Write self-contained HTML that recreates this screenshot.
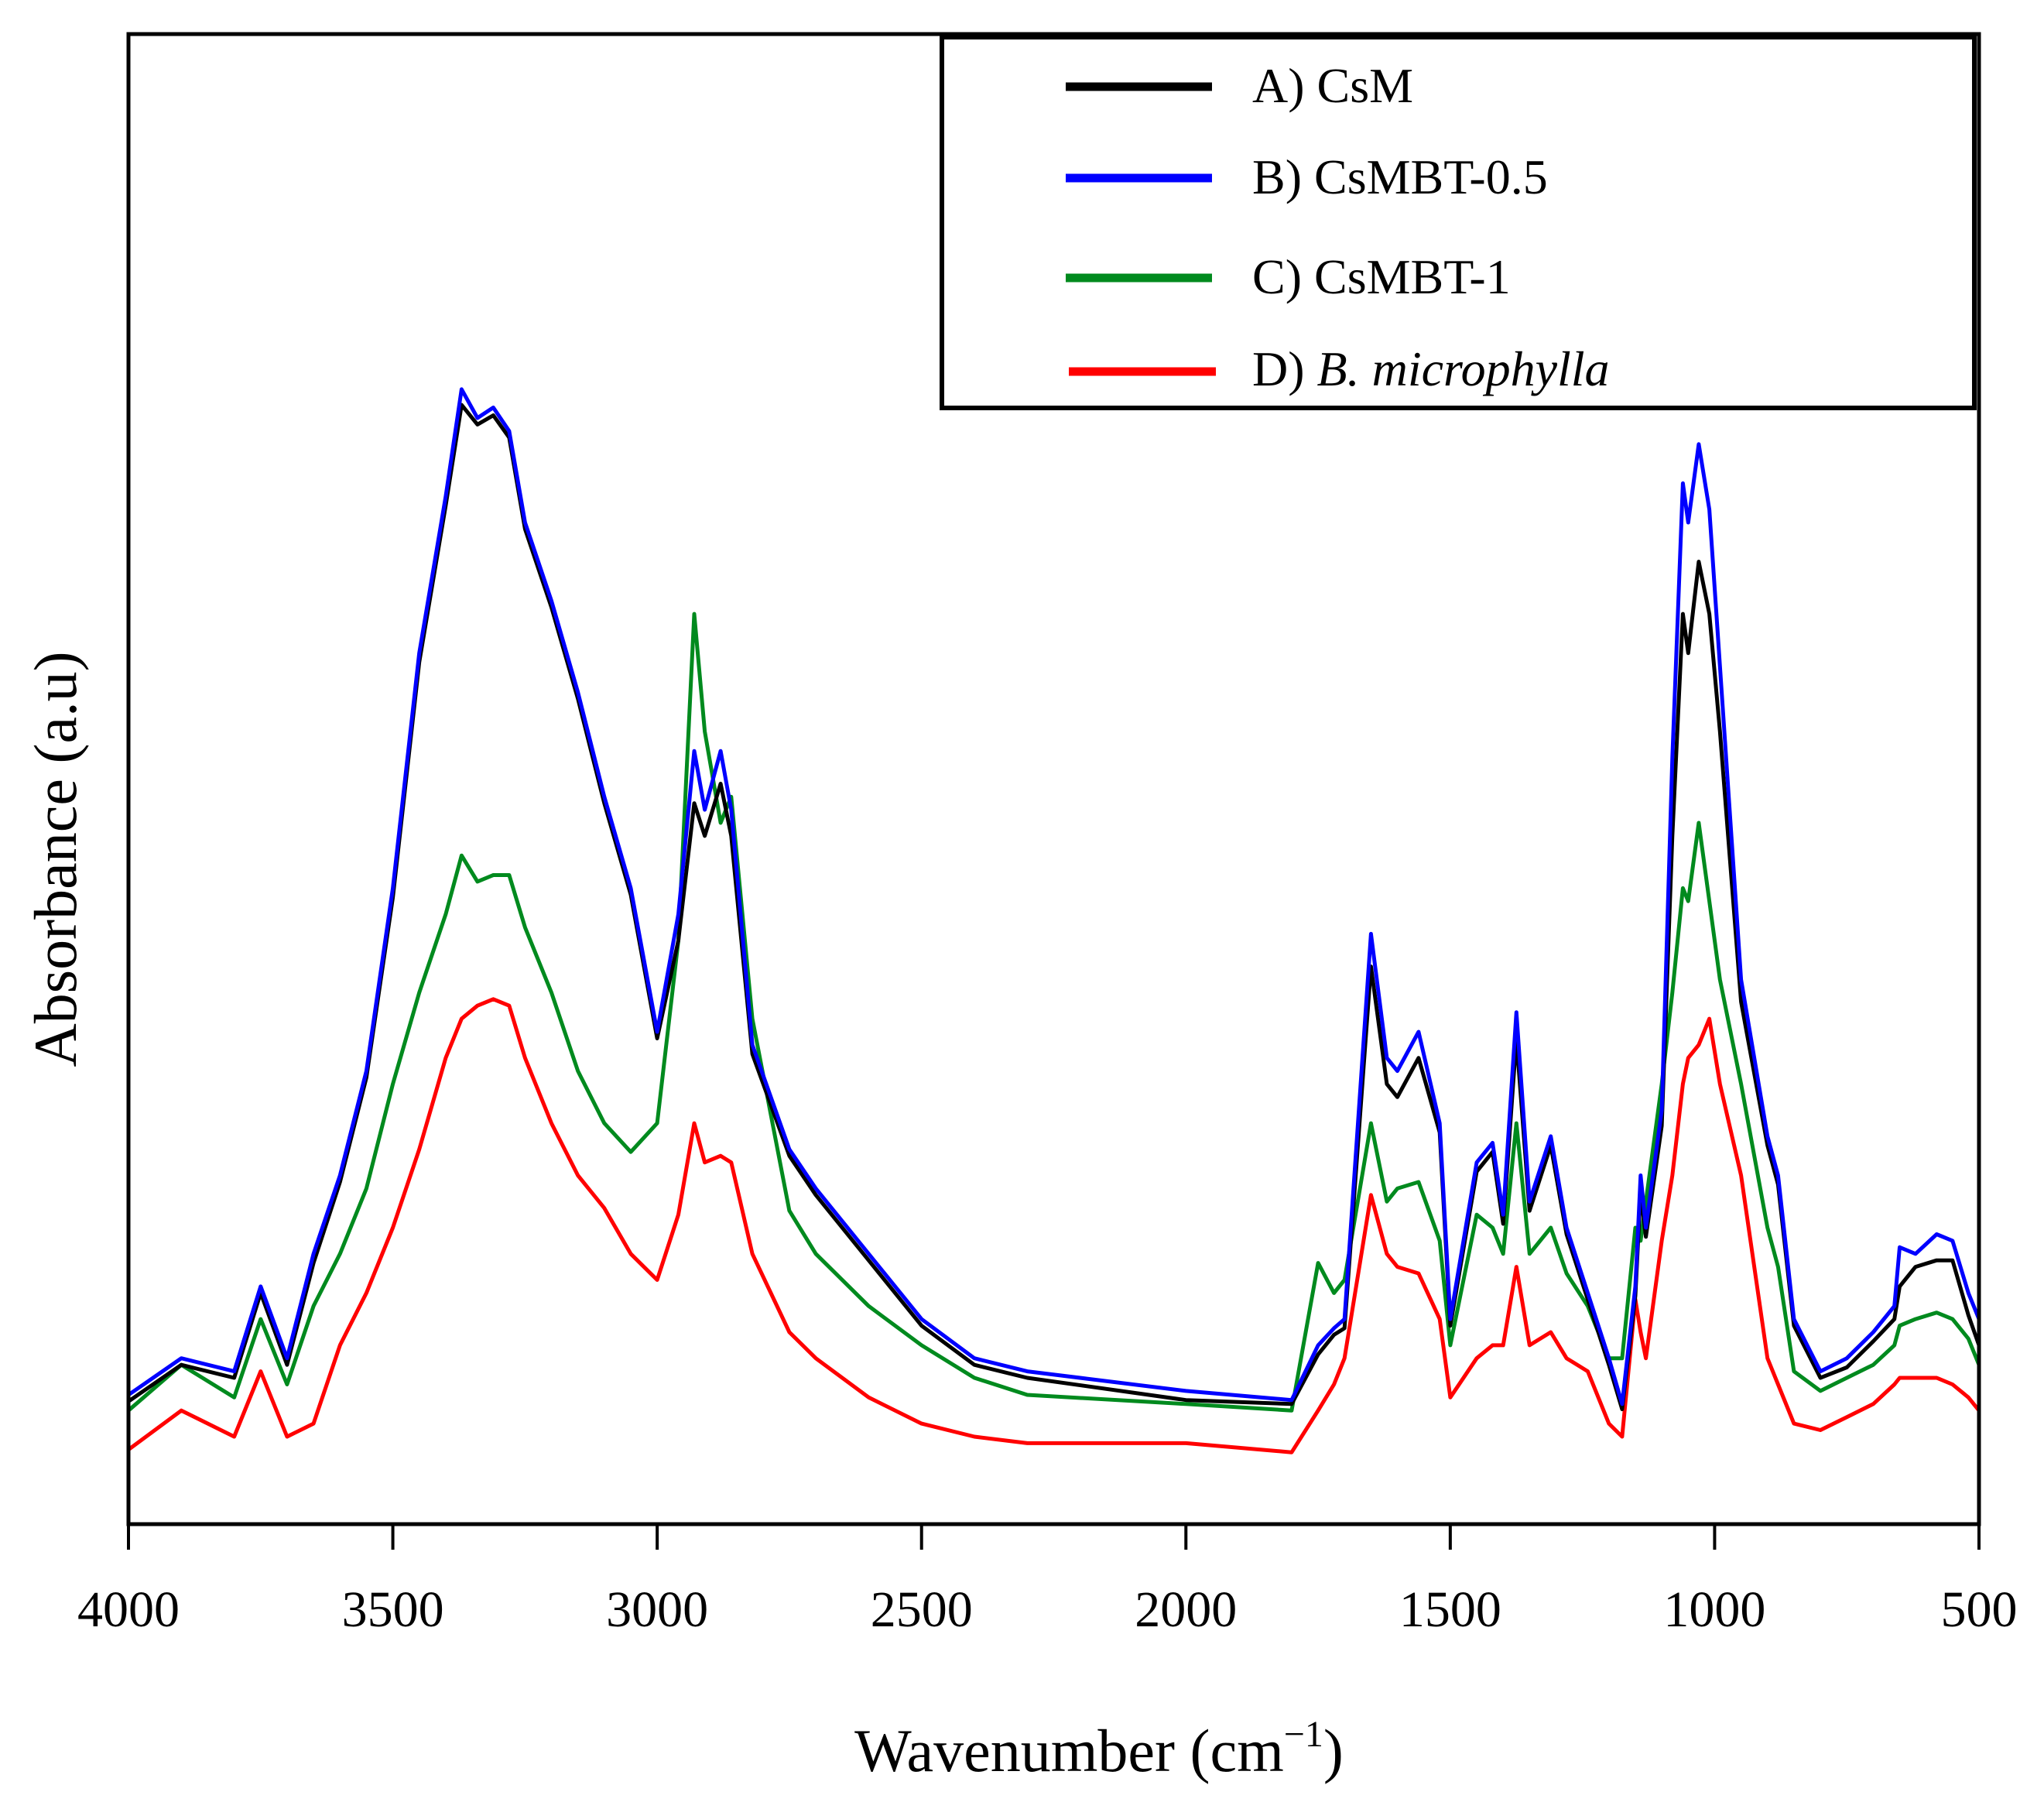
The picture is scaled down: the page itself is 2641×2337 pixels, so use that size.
<!DOCTYPE html>
<html><head><meta charset="utf-8"><style>
html,body{margin:0;padding:0;background:#fff;}
svg{display:block;}
text{font-family:"Liberation Serif",serif;fill:#000;}
</style></head><body>
<svg id="chart" width="2641" height="2337" viewBox="0 0 2641 2337">
<g id="series"></g>
<rect x="166" y="44" width="2391" height="1925" fill="none" stroke="#000" stroke-width="5"/>
<g id="ticks"></g>
<text x="1420" y="2288" font-size="78" text-anchor="middle">Wavenumber (cm<tspan font-size="48" dy="-32">−1</tspan><tspan dy="32">)</tspan></text>
<text transform="translate(98,1110) rotate(-90)" font-size="78" text-anchor="middle">Absorbance (a.u)</text>
<g>
<rect x="1217" y="48" width="1334" height="479" fill="#fff" stroke="#000" stroke-width="6"/>
<line x1="1377" y1="112" x2="1566" y2="112" stroke="#000" stroke-width="11"/>
<text x="1618" y="132" font-size="64">A) CsM</text>
<line x1="1377" y1="230" x2="1566" y2="230" stroke="#0000ff" stroke-width="11"/>
<text x="1618" y="250" font-size="64">B) CsMBT-0.5</text>
<line x1="1377" y1="359" x2="1566" y2="359" stroke="#008a1e" stroke-width="11"/>
<text x="1618" y="379" font-size="64">C) CsMBT-1</text>
<line x1="1381" y1="480" x2="1571" y2="480" stroke="#ff0000" stroke-width="11"/>
<text x="1618" y="498" font-size="64">D) <tspan font-style="italic">B. microphylla</tspan></text>
</g>
</svg>
<script>
const wavenumbers=[4000,3900,3800,3750,3700,3650,3600,3550,3500,3450,3400,3370,3340,3310,3280,3250,3200,3150,3100,3050,3000,2960,2930,2910,2880,2860,2820,2750,2700,2600,2500,2400,2300,2000,1800,1750,1720,1700,1650,1620,1600,1560,1520,1500,1450,1420,1400,1375,1350,1310,1280,1240,1200,1175,1150,1140,1130,1100,1080,1060,1050,1030,1010,990,950,900,880,850,800,750,700,660,650,620,580,550,520,500];
const csm=[94,122,112,177,122,200,262,342,480,660,780,857,842,849,832,762,702,632,552,482,372,447,552,527,567,527,360,282,252,202,152,122,112,95,92,130,145,150,427,337,327,357,300,152,270,285,230,372,240,290,222,172,122,88,175,255,220,305,527,697,667,737,697,607,400,290,260,152,112,120,140,157,182,197,202,202,160,137];
const csmbt05=[99,127,117,182,127,207,267,347,487,667,787,869,847,855,837,767,707,637,557,487,377,467,592,547,592,547,367,287,257,207,157,127,117,102,95,137,150,157,452,357,347,377,307,157,277,292,237,392,247,297,227,177,127,92,182,267,227,317,587,797,767,827,777,657,417,297,267,157,117,127,147,167,212,207,222,217,177,157];
const csmbt1=[87,122,97,157,107,167,207,257,337,407,467,512,492,497,497,457,407,347,307,285,307,447,697,607,537,557,387,240,207,167,137,112,99,92,87,200,177,187,307,247,257,262,217,137,237,227,207,307,207,227,192,167,127,127,227,217,247,337,407,487,477,537,477,417,337,227,197,117,102,112,122,137,152,157,162,157,142,122];
const bmicrophylla=[57,87,67,117,67,77,137,177,227,287,357,387,397,402,397,357,307,267,242,207,187,237,307,277,282,277,207,147,127,97,77,67,62,62,55,87,107,127,252,207,197,192,157,97,127,137,137,197,137,147,127,117,77,67,172,147,127,217,267,337,357,367,387,337,267,127,107,77,72,82,92,107,112,112,112,107,97,87];
const tickValues=[4000,3500,3000,2500,2000,1500,1000,500];
const tickLabels=["4000","3500","3000","2500","2000","1500","1000","500"];
const NS="http://www.w3.org/2000/svg";
function xs(w){return 166+(4000-w)/3500*2391;}
function ys(v){return 1969-v/1141*1925;}
const sg=document.getElementById('series');
const defs=[[bmicrophylla,'#ff0000','series-b-microphylla'],[csmbt1,'#008a1e','series-csmbt-1'],[csm,'#000000','series-csm'],[csmbt05,'#0000ff','series-csmbt-0-5']];
defs.forEach(function(d){
  const p=document.createElementNS(NS,'path');
  let s='';
  wavenumbers.forEach(function(w,i){s+=(i?'L':'M')+xs(w).toFixed(1)+' '+ys(d[0][i]).toFixed(1);});
  p.setAttribute('d',s);
  p.setAttribute('fill','none');
  p.setAttribute('stroke',d[1]);
  p.setAttribute('stroke-width','5');
  p.setAttribute('stroke-linejoin','round');
  
  
  sg.appendChild(p);
});
const tg=document.getElementById('ticks');
tickValues.forEach(function(t,i){
  const l=document.createElementNS(NS,'line');
  l.setAttribute('x1',xs(t));l.setAttribute('x2',xs(t));
  l.setAttribute('y1',1969);l.setAttribute('y2',2002);
  l.setAttribute('stroke','#000');l.setAttribute('stroke-width','4');
  
  
  tg.appendChild(l);
  const tx=document.createElementNS(NS,'text');
  tx.setAttribute('x',xs(t));tx.setAttribute('y',2101);
  tx.setAttribute('font-size','66');tx.setAttribute('text-anchor','middle');
  tx.textContent=tickLabels[i];
  
  
  tg.appendChild(tx);
});
</script>
</body></html>
